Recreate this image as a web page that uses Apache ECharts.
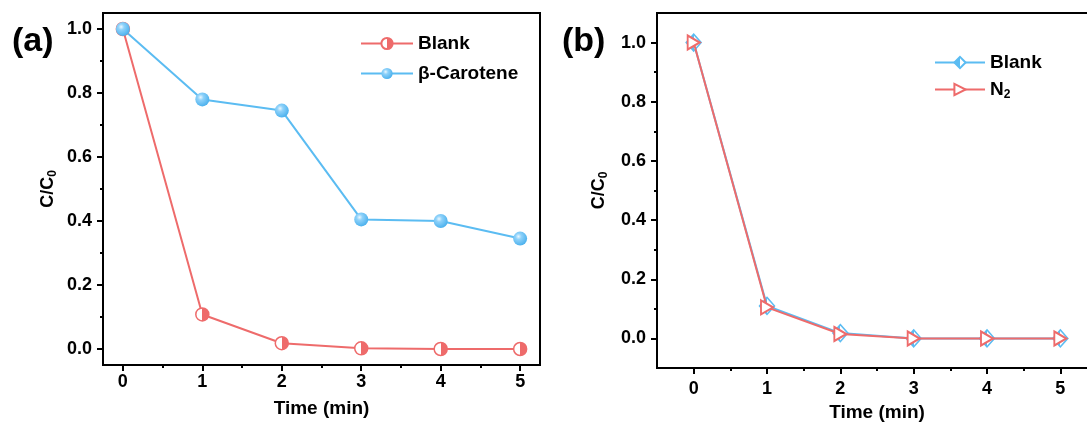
<!DOCTYPE html>
<html>
<head>
<meta charset="utf-8">
<script src="https://cdn.jsdelivr.net/npm/echarts@6/dist/echarts.min.js"></script>
<style>
  html, body { margin: 0; padding: 0; background: #fff; }
  #chart { width: 1087px; height: 423px; }
</style>
</head>
<body>
<div id="chart"></div>
<script>
// Time points (min)
const times = [0, 1, 2, 3, 4, 5];
const xTickLabels = [0, 1, 2, 3, 4, 5];
const yTickLabels = [0, 0.2, 0.4, 0.6, 0.8, 1.0];

// Panel (a)
const blankA = [1.0, 0.108, 0.018, 0.002, 0.0, 0.0];
const caroteneA = [1.0, 0.78, 0.745, 0.405, 0.40, 0.345];

// Panel (b)
const blankB = [1.0, 0.11, 0.018, 0.0, 0.0, 0.0];
const nitrogenB = [1.0, 0.105, 0.015, 0.0, 0.0, 0.0];

const RED = '#EE6B6B';
const BLUE = '#5BBCF2';
const FONT = '"Liberation Sans", Arial, sans-serif';

const pairs = (ys) => times.map((t, i) => [t, ys[i]]);
const minorX = [0.5, 1.5, 2.5, 3.5, 4.5];
const minorY = [0.1, 0.3, 0.5, 0.7, 0.9];

const halfFill = (left, right) => new echarts.graphic.LinearGradient(0, 0, 1, 0, [
  { offset: 0, color: left }, { offset: 0.5, color: left },
  { offset: 0.5, color: right }, { offset: 1, color: right }
]);
const ball = new echarts.graphic.RadialGradient(0.38, 0.35, 0.7, [
  { offset: 0, color: '#eaf7ff' },
  { offset: 0.3, color: '#8fd2fa' },
  { offset: 1, color: '#46aeec' }
]);

const axisText = { color: '#000', fontFamily: FONT, fontWeight: 'bold', fontSize: 18 };
const lineStyle = { color: '#000', width: 2 };

// bare axis that only draws outward ticks at the given values
function tickAxis(gridIndex, min, max, position, values, length) {
  return {
    type: 'value', gridIndex, min, max, position,
    axisLine: { show: false, onZero: false },
    axisTick: { show: true, customValues: values, length, lineStyle },
    axisLabel: { show: false },
    splitLine: { show: false }
  };
}

function xAxes(gridIndex, min, max, labelMargin, nameGap) {
  return [
    {
      type: 'value', gridIndex, min, max, position: 'bottom',
      axisLine: { show: true, onZero: false, lineStyle },
      axisTick: { show: true, customValues: xTickLabels, length: 6, lineStyle },
      axisLabel: { customValues: xTickLabels, margin: labelMargin, ...axisText },
      splitLine: { show: false },
      name: 'Time (min)', nameLocation: 'middle', nameGap,
      nameTextStyle: { ...axisText, fontSize: 19 }
    },
    tickAxis(gridIndex, min, max, 'bottom', xTickLabels, 6),
    tickAxis(gridIndex, min, max, 'bottom', minorX, 3)
  ];
}

function yAxes(gridIndex, min, max, nameGap) {
  return [
    {
      type: 'value', gridIndex, min, max, position: 'left',
      axisLine: { show: true, onZero: false, lineStyle },
      axisTick: { show: true, customValues: yTickLabels, length: 6, lineStyle },
      axisLabel: { customValues: yTickLabels, margin: 11, formatter: v => v.toFixed(1), ...axisText },
      splitLine: { show: false },
      name: '{n|C/C}{s|0}', nameLocation: 'middle', nameRotate: 90, nameGap,
      nameTextStyle: {
        rich: {
          n: { ...axisText, fontSize: 18 },
          s: { ...axisText, fontSize: 12, verticalAlign: 'bottom', padding: [9, 0, 0, 0] }
        }
      }
    },
    tickAxis(gridIndex, min, max, 'left', yTickLabels, 6),
    tickAxis(gridIndex, min, max, 'left', minorY, 3)
  ];
}

const xs = [...xAxes(0, -0.25, 5.25, 8, 34), ...xAxes(1, -0.5, 5.5, 12, 31)];
const ys = [...yAxes(0, -0.05, 1.05, 44), ...yAxes(1, -0.1, 1.1, 47)];

const legendText = {
  color: '#000', fontFamily: FONT, fontWeight: 'bold', fontSize: 19,
  rich: {
    n: { color: '#000', fontFamily: FONT, fontWeight: 'bold', fontSize: 19 },
    s: { color: '#000', fontFamily: FONT, fontWeight: 'bold', fontSize: 12, verticalAlign: 'bottom', padding: [10, 0, 0, 0] }
  }
};

const chart = echarts.init(document.getElementById('chart'), null, { renderer: 'canvas' });
chart.setOption({
  animation: false,
  backgroundColor: '#fff',
  grid: [
    { left: 103, top: 13, width: 437, height: 352, show: true, borderColor: '#000', borderWidth: 2,
      backgroundColor: 'transparent', outerBoundsMode: 'none', containLabel: false },
    { left: 657, top: 13, width: 440, height: 355, show: true, borderColor: '#000', borderWidth: 2,
      backgroundColor: 'transparent', outerBoundsMode: 'none', containLabel: false }
  ],
  xAxis: xs,
  yAxis: ys,
  legend: [
    {
      data: ['Blank', 'β-Carotene'], left: 355, top: 29, orient: 'vertical',
      itemWidth: 52, itemHeight: 14, itemGap: 11, textStyle: legendText
    },
    {
      data: ['Blank ', 'N2'], left: 929, top: 48, orient: 'vertical',
      itemWidth: 50, itemHeight: 14, itemGap: 8, textStyle: legendText,
      formatter: name => name === 'N2' ? '{n|N}{s|2}' : '{n|Blank}'
    }
  ],
  graphic: [
    { type: 'text', left: 12, top: 25, style: { text: '(a)', font: 'bold 34px ' + FONT, fill: '#000' } },
    { type: 'text', left: 562, top: 25, style: { text: '(b)', font: 'bold 34px ' + FONT, fill: '#000' } }
  ],
  series: [
    {
      name: 'Blank', type: 'line', xAxisIndex: 0, yAxisIndex: 0,
      data: pairs(blankA), symbol: 'circle', symbolSize: 13,
      lineStyle: { color: RED, width: 2 },
      itemStyle: { color: halfFill('#ffffff', RED), borderColor: RED, borderWidth: 1.5 },
      z: 3
    },
    {
      name: 'β-Carotene', type: 'line', xAxisIndex: 0, yAxisIndex: 0,
      data: pairs(caroteneA), symbol: 'circle', symbolSize: 14,
      lineStyle: { color: BLUE, width: 2 },
      itemStyle: { color: ball, borderWidth: 0 },
      z: 3
    },
    {
      name: 'Blank ', type: 'line', xAxisIndex: 3, yAxisIndex: 3,
      data: pairs(blankB), symbol: 'diamond', symbolSize: [15, 17],
      lineStyle: { color: BLUE, width: 2 },
      itemStyle: { color: halfFill(BLUE, '#ffffff'), borderColor: BLUE, borderWidth: 1.5 },
      z: 3
    },
    {
      name: 'N2', type: 'line', xAxisIndex: 3, yAxisIndex: 3,
      data: pairs(nitrogenB), symbol: 'path://M0,0 L10,6 L0,12 Z', symbolSize: [12, 14],
      lineStyle: { color: RED, width: 2 },
      itemStyle: { color: '#ffffff', borderColor: RED, borderWidth: 2 },
      z: 4
    }
  ]
});
</script>
</body>
</html>
